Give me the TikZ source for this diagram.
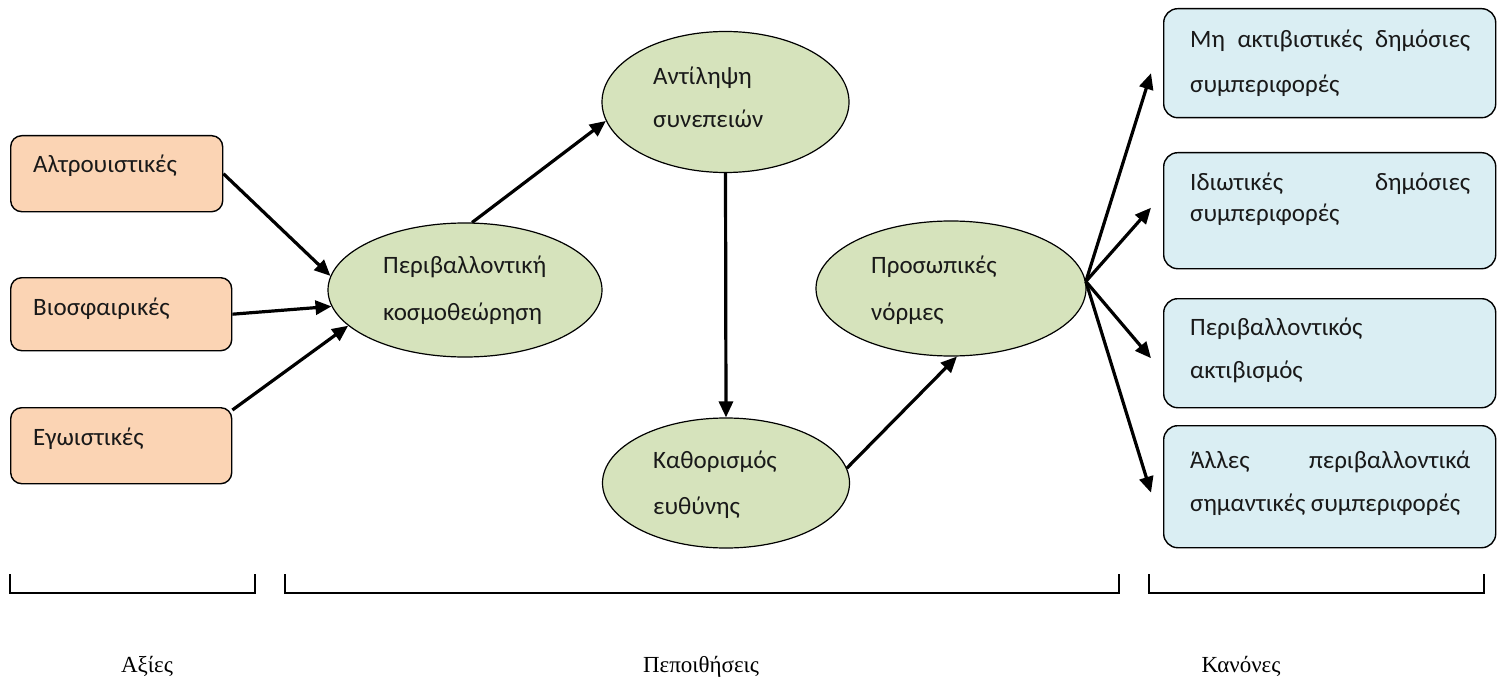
\documentclass[tikz,border=0pt]{standalone}
\usepackage{fontspec}
\setmainfont{Carlito}
\newfontfamily\grserif{Liberation Serif}
\usetikzlibrary{arrows.meta,shapes.geometric}
\definecolor{peach}{HTML}{FBD4B4}
\definecolor{olivefill}{HTML}{D6E3BC}
\definecolor{aquafill}{HTML}{DAEEF3}
\begin{document}
\begin{tikzpicture}[x=1pt,y=-1pt,
  valbox/.style={draw=black, line width=1.4pt, fill=peach, rounded corners=11pt, inner sep=0pt, anchor=north west},
  behbox/.style={draw=black, line width=1.4pt, fill=aquafill, rounded corners=14pt, inner sep=0pt, anchor=north west, minimum width=332pt},
  ell/.style={draw=black, line width=1.2pt, fill=olivefill, ellipse, inner sep=0pt},
  txt/.style={anchor=base west, inner sep=0pt, font=\fontsize{25}{30}\selectfont, text=black!90},
  cat/.style={anchor=base, inner sep=0pt, font=\grserif\fontsize{23}{27}\selectfont},
  arr/.style={line width=3.2pt, -{Triangle[length=16pt,width=14pt]}},
  bracket/.style={line width=1.8pt}]
\useasboundingbox (0,0) rectangle (1499,690);

% value boxes
\node[valbox, minimum width=212pt, minimum height=76pt] (v1) at (10,135) {};
\node[valbox, minimum width=221pt, minimum height=73pt] (v2) at (10,277) {};
\node[valbox, minimum width=221pt, minimum height=76pt] (v3) at (10,407) {};
\node[txt] (t1) at (33,172) {Αλτρουιστικές};
\node[txt] (t2) at (33,315) {Βιοσφαιρικές};
\node[txt] (t3) at (33,445) {Εγωιστικές};

% ellipses
\node[ell, minimum width=274pt, minimum height=134pt] (A) at (465,290) {};
\node[ell, minimum width=247pt, minimum height=141pt] (B) at (725.5,102) {};
\node[ell, minimum width=247pt, minimum height=130pt] (C) at (726,483) {};
\node[ell, minimum width=270pt, minimum height=135pt] (D) at (951,288.5) {};
\node[txt] (a1) at (383,273) {Περιβαλλοντική};
\node[txt] (a2) at (383,320) {κοσμοθεώρηση};
\node[txt] (b1) at (653,85) {Αντίληψη};
\node[txt] (b2) at (653,128) {συνεπειών};
\node[txt] (c1) at (653,468) {Καθορισμός};
\node[txt] (c2) at (653,514) {ευθύνης};
\node[txt] (d1) at (871,273) {Προσωπικές};
\node[txt] (d2) at (871,320) {νόρμες};

% behaviour boxes
\node[behbox, minimum height=109pt] (k1) at (1163,8) {};
\node[behbox, minimum height=116pt] (k2) at (1163,152) {};
\node[behbox, minimum height=109pt] (k3) at (1163,298) {};
\node[behbox, minimum height=122pt] (k4) at (1163,425) {};
\node[txt] (k1a) at (1190,48) {\makebox[280pt][s]{Μη ακτιβιστικές δημόσιες}};
\node[txt] (k1b) at (1190,93) {συμπεριφορές};
\node[txt] (k2a) at (1190,190) {\makebox[280pt][s]{Ιδιωτικές δημόσιες}};
\node[txt] (k2b) at (1190,221) {συμπεριφορές};
\node[txt] (k3a) at (1190,335) {Περιβαλλοντικός};
\node[txt] (k3b) at (1190,378) {ακτιβισμός};
\node[txt] (k4a) at (1190,468) {\makebox[280pt][s]{Άλλες περιβαλλοντικά}};
\node[txt] (k4b) at (1190,511) {σημαντικές συμπεριφορές};

% connectors
\draw[arr] (v1.east) -- (A.174);
\draw[arr] (v2.east) -- (A.187);
\draw[arr] ([yshift=-3pt]v3.north east) -- (A.197);
\draw[arr] (A.84) -- (B.189);
\draw[arr] (B.south) -- (C.north);
\draw[arr] (C.7) -- (D.275);
\coordinate (e1) at ([xshift=-12pt,yshift=-10pt]k1.west);
\coordinate (e2) at ([xshift=-12pt,yshift=3pt]k2.west);
\coordinate (e3) at ([xshift=-12pt,yshift=-5pt]k3.west);
\coordinate (e4) at ([xshift=-12pt,yshift=-6pt]k4.west);
\draw[arr] (D.3) -- (e1);
\draw[arr] (D.3) -- (e2);
\draw[arr] (D.3) -- (e3);
\draw[arr] (D.3) -- (e4);

% brackets
\draw[bracket] (10,574) -- (10,593) -- (255,593) -- (255,574);
\draw[bracket] (285,574) -- (285,593) -- (1119,593) -- (1119,574);
\draw[bracket] (1149,574) -- (1149,593) -- (1484,593) -- (1484,574);

% category labels
\node[cat] (l1) at (147,672) {Αξίες};
\node[cat] (l2) at (701,672) {Πεποιθήσεις};
\node[cat] (l3) at (1241,672) {Κανόνες};
\end{tikzpicture}
\end{document}
